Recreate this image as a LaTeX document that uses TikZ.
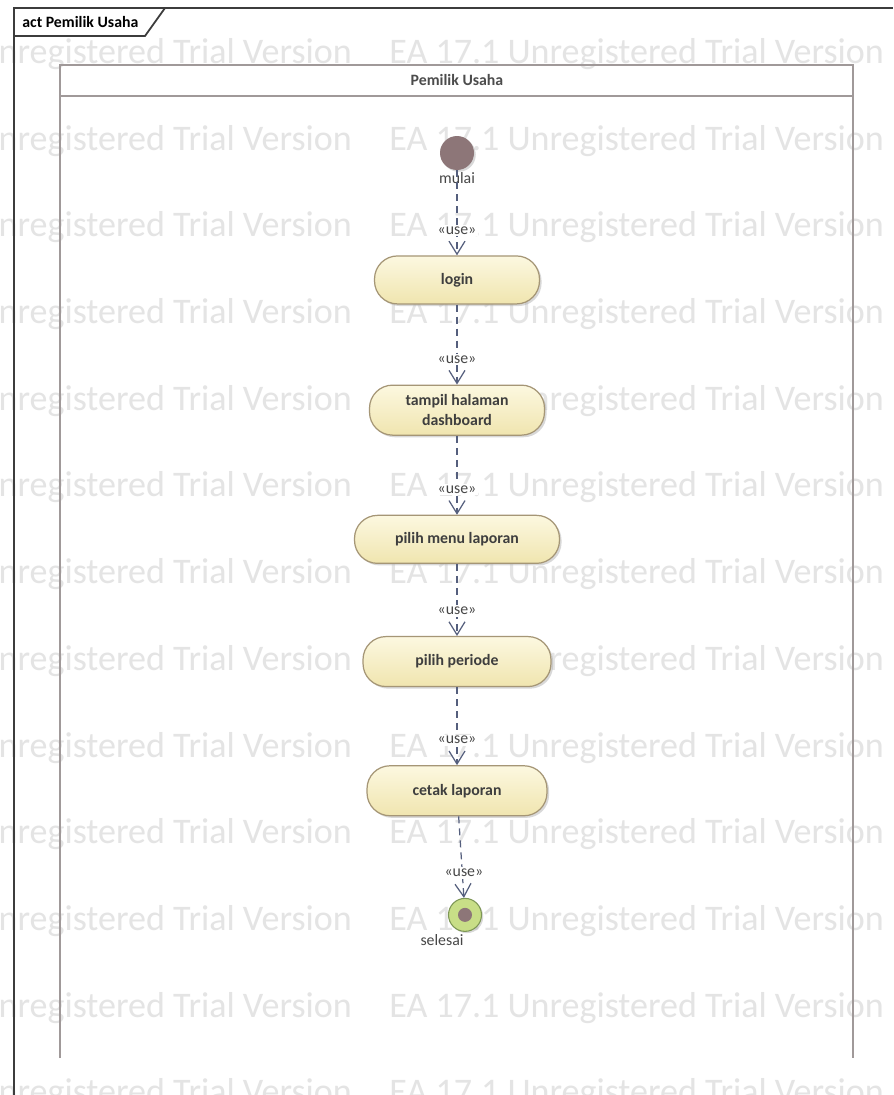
\documentclass[tikz,border=0pt]{standalone}
\usepackage{fontspec}
\setmainfont{Carlito}
\usetikzlibrary{positioning,arrows.meta,shadows}
\definecolor{wmgray}{RGB}{228,228,228}
\definecolor{framecol}{RGB}{60,60,60}
\definecolor{lanecol}{RGB}{160,153,153}
\definecolor{acttop}{RGB}{252,248,224}
\definecolor{actbot}{RGB}{240,229,175}
\definecolor{actdraw}{RGB}{165,150,118}
\definecolor{acttext}{RGB}{62,62,62}
\definecolor{startcol}{RGB}{141,118,120}
\definecolor{endring}{RGB}{200,222,135}
\definecolor{enddraw}{RGB}{125,150,85}
\definecolor{depcol}{RGB}{85,95,125}
\tikzset{node distance=1.6cm,
	action/.style={draw=actdraw, line width=0.7pt, rounded corners=0.46cm, top color=acttop, bottom color=actbot, text=acttext, font=\bfseries\fontsize{9}{11}\selectfont, align=center, minimum height=0.96cm, drop shadow={shadow xshift=1.2pt, shadow yshift=-1.2pt, fill=black!30}},
	startnode/.style={circle, fill=startcol, minimum size=0.68cm, inner sep=0pt, drop shadow={shadow xshift=1pt, shadow yshift=-1pt, fill=black!30}},
	endnode/.style={circle, draw=enddraw, line width=0.6pt, fill=endring, minimum size=0.66cm, inner sep=0pt, drop shadow={shadow xshift=1pt, shadow yshift=-1pt, fill=black!30}, path picture={\fill[startcol] (path picture bounding box.center) circle (0.14cm);}},
	lbl/.style={font=\fontsize{9}{11}\selectfont, text=black!72, inner sep=1pt},
	uselbl/.style={pos=1, yshift=0.5cm, fill=white, inner sep=1pt, font=\fontsize{9}{11}\selectfont, text=black!72},
	dep/.style={draw=depcol, line width=0.7pt, dash pattern=on 0.14cm off 0.1cm, -{Straight Barb[length=0.26cm,width=0.32cm]}},
	wmark/.style={anchor=west, inner sep=0pt, text=wmgray, font=\fontsize{20.5}{21}\selectfont},
	tabtext/.style={anchor=west, inner sep=0pt, font=\bfseries\fontsize{9}{11}\selectfont},
	lanetext/.style={inner sep=0pt, text=black!70, font=\bfseries\fontsize{9}{11}\selectfont}}

\begin{document}
\begin{tikzpicture}[x=0.02cm, y=-0.02cm]
				\useasboundingbox (0,0) rectangle (893,1095);
				\fill[white] (0,0) rectangle (893,1095);

				\begin{scope}
					\clip (0,0) rectangle (893,1095);
					\foreach \k in {0,...,12}{
						\node[wmark] (wa\k) at (389,54+86.7*\k) {EA 17.1 Unregistered Trial Version};
						\node[wmark] (wb\k) at (-143,54+86.7*\k) {EA 17.1 Unregistered Trial Version};
					}
				\end{scope}

				\draw[framecol, line width=1pt] (14,1095) -- (14,8) -- (893,8);
				\draw[framecol, line width=1pt] (14,36) -- (145,36) -- (165,8);
				\node[tabtext] (acttab) at (22,22) {act Pemilik Usaha};

				\draw[lanecol, line width=1.6pt] (60,1058) -- (60,65) -- (853,65) -- (853,1058);
				\draw[lanecol, line width=1.6pt] (60,96) -- (853,96);
				\node[lanetext] (lanehead) at (457,80) {Pemilik Usaha};

				\node[startnode, label={[lbl]below:mulai}] (mulai) at (457,153) {};
				\node[action, minimum width=3.3cm] (login) [below=1.7cm of mulai] {login};
				\node[action, minimum width=3.5cm, minimum height=1cm] (dashboard) [below=1.6cm of login] {tampil halaman\\dashboard};
				\node[action, minimum width=4.1cm] (menu) [below=1.58cm of dashboard] {pilih menu laporan};
				\node[action, minimum width=3.76cm, minimum height=1cm] (periode) [below=1.44cm of menu] {pilih periode};
				\node[action, minimum width=3.6cm, minimum height=1cm] (cetak) [below=1.56cm of periode] {cetak laporan};
				\node[endnode, label={[lbl, xshift=-0.46cm]below:selesai}] (selesai) [below=1.63cm of cetak, xshift=0.16cm] {};

				\path
				(mulai) edge[dep] node[uselbl] {«use»} (login)
				(login) edge[dep] node[uselbl] {«use»} (dashboard)
				(dashboard) edge[dep] node[uselbl] {«use»} (menu)
				(menu) edge[dep] node[uselbl] {«use»} (periode)
				(periode) edge[dep] node[uselbl] {«use»} (cetak)
				(cetak) edge[dep] node[uselbl] {«use»} (selesai)
				;
			\end{tikzpicture}
\end{document}
